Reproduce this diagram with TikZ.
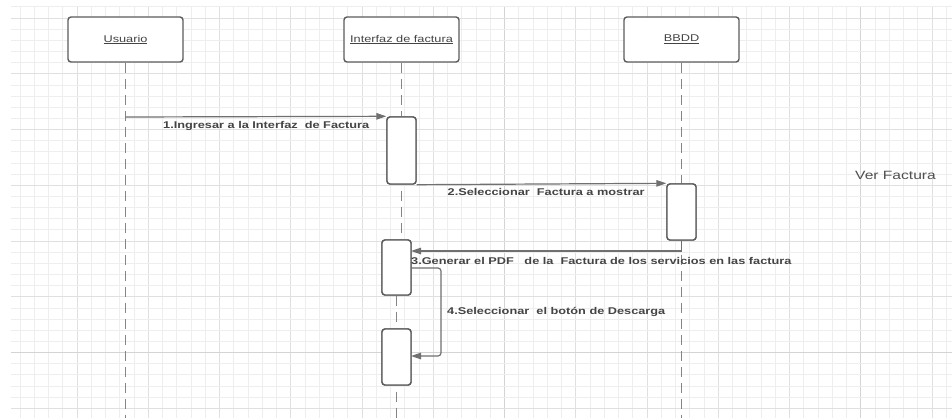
\documentclass[tikz,border=0pt]{standalone}
\usepackage{fontspec}
\setmainfont{Liberation Sans}
\usepackage{graphicx}
\usetikzlibrary{arrows.meta}

\definecolor{gridminor}{HTML}{EEEEEE}
\definecolor{gridmajor}{HTML}{E0E0E0}
\definecolor{gridstrong}{HTML}{D4D4D4}
\definecolor{edgegray}{HTML}{5C5C5C}
\definecolor{lifegray}{HTML}{858585}
\definecolor{msggray}{HTML}{707070}
\definecolor{txtgray}{HTML}{444444}
\definecolor{notegray}{HTML}{505050}

% wide lettering used throughout the diagram
\newcommand\hstretch[1]{\scalebox{1.3}[1]{#1}}

\begin{document}
\begin{tikzpicture}[x=1pt,y=-1pt,
  actor/.style={draw=edgegray, line width=1.4pt, rounded corners=3pt, fill=white,
    minimum width=115pt, minimum height=45pt, inner sep=0pt, text=txtgray,
    font=\fontsize{9.8}{12}\selectfont},
  activation/.style={draw=edgegray, line width=1.4pt, rounded corners=3pt, fill=white,
    minimum width=29pt, inner sep=0pt},
  lifeline/.style={draw=lifegray, line width=1.4pt, dash pattern=on 10pt off 6pt},
  msg/.style={draw=msggray, line width=1.2pt, -{Triangle[length=10pt,width=6.5pt]}},
  msglabel/.style={inner sep=0pt, anchor=base west, text=txtgray,
    font=\fontsize{9.8}{12}\selectfont\bfseries},
  gridline/.style={draw=gridminor, line width=0.8pt},
]
\useasboundingbox (0,0) rectangle (952,418);
\fill[white] (0,0) rectangle (952,418);

% background grid
\foreach \i in {1,...,66} {
  \pgfmathsetmacro\gx{5.75+14.25*\i}
  \pgfmathtruncatemacro\gm{mod(\i,5)}
  \ifnum\gm=0
    \ifnum\i=35 \draw[draw=gridstrong, line width=1pt] (\gx,7) -- (\gx,418);
    \else\ifnum\i=60 \draw[draw=gridstrong, line width=1pt] (\gx,7) -- (\gx,418);
    \else \draw[draw=gridmajor, line width=1pt] (\gx,7) -- (\gx,418); \fi\fi
  \else
    \draw[gridline] (\gx,7) -- (\gx,418);
  \fi
}
\foreach \j in {0,...,36} {
  \pgfmathsetmacro\gy{6.85+11.15*\j}
  \pgfmathtruncatemacro\gm{mod(\j-1,5)}
  \ifnum\j=31 \draw[draw=gridstrong, line width=1.2pt] (11,\gy) -- (952,\gy);
  \else\ifnum\gm=0 \draw[draw=gridmajor, line width=1pt] (11,\gy) -- (952,\gy);
  \else \draw[gridline] (11,\gy) -- (952,\gy); \fi\fi
}

% participants
\node[actor] (usr) at (125.5,39.5) {\hstretch{\underline{Usuario}}};
\node[actor] (ifz) at (401.5,39.5) {\hstretch{\underline{Interfaz de factura}}};
\node[actor] (bd)  at (681.5,39.5) {\hstretch{\underline{BBDD}}};

% lifeline ends
\coordinate (usrEnd) at (125.5,418);
\coordinate (ifzEnd) at (396.5,418);
\coordinate (bdEnd)  at (681.5,418);

% activation bars (placed first so lifelines can reference them)
\path (401.5,150.5) node[activation, minimum height=67pt] (act1) {};
\path (681.5,212) node[activation, minimum height=56pt] (act2) {};
\path (396.5,267.5) node[activation, minimum height=55pt] (act3) {};
\path (396.5,357) node[activation, minimum height=56pt] (act4) {};

% lifelines
\draw[lifeline] (usr.south) -- (usrEnd);
\draw[lifeline] (ifz.south) -- (act3.north -| ifz.south);
\draw[lifeline] (act3.south) -- (ifzEnd);
\draw[lifeline] (bd.south) -- (bdEnd);

% redraw activation bars over the lifelines
\node[activation, minimum height=67pt] at (act1) {};
\node[activation, minimum height=56pt] at (act2) {};
\node[activation, minimum height=55pt] at (act3) {};
\node[activation, minimum height=56pt] at (act4) {};

% messages
\coordinate (m1s) at (125.5,117);
\draw[msg] (m1s) -- (act1.north west);
\draw[msg] (act1.south east) -- (act2.north west);
\coordinate (m3e) at (411,251);
\draw[msg] (act2.south) |- (m3e);
\coordinate (m4s) at (411,268);
\coordinate (m4e) at (411,356);
\draw[msg, rounded corners=3pt] (m4s) -- ++(30,0) |- (m4e);

% message labels
\node[msglabel] (l1) at (163,128.5) {\hstretch{1.Ingresar a la Interfaz\ \ de Factura}};
\node[msglabel] (l2) at (447.5,195) {\hstretch{2.Seleccionar\ \ Factura a mostrar}};
\node[msglabel] (l3) at (411,264) {\hstretch{3.Generar el PDF\ \ \ de la\ \ Factura de los servicios en las factura}};
\node[msglabel] (l4) at (447,314) {\hstretch{4.Seleccionar\ \ el botón de Descarga}};

% diagram title
\node[inner sep=0pt, anchor=base west, text=notegray, font=\fontsize{12}{14}\selectfont]
  (title) at (855,179) {\hstretch{Ver Factura}};
\end{tikzpicture}
\end{document}
